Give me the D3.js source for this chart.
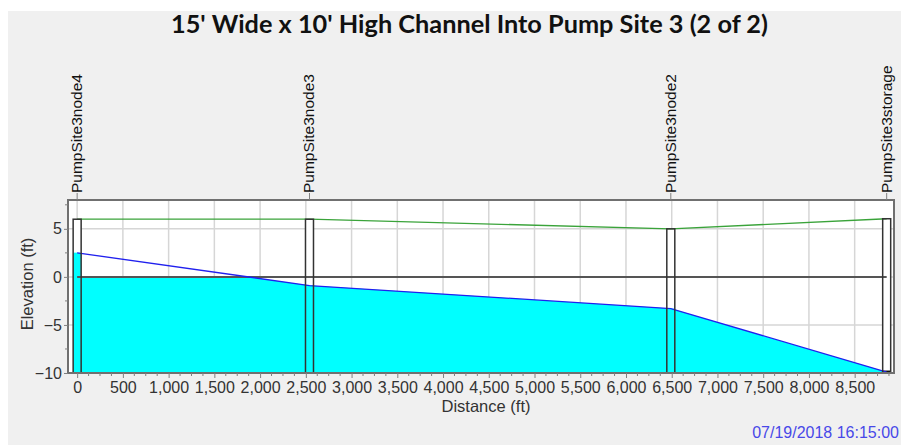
<!DOCTYPE html>
<html><head><meta charset="utf-8">
<script src="https://cdn.jsdelivr.net/npm/d3@7"></script>
<style>
html,body{margin:0;padding:0;background:#fff;}
svg{display:block;}
text{font-family:"Liberation Sans",Arial,sans-serif;}
</style></head>
<body>
<svg id="c" width="901" height="445"></svg>
<script>
// ---- data ----
const title = "15' Wide x 10' High Channel Into Pump Site 3 (2 of 2)";
const nodeNames = ["PumpSite3node4", "PumpSite3node3", "PumpSite3node2", "PumpSite3storage"];
const nodeDistance = [0, 2540, 6490, 8850];
const groundElevation = [6.0, 6.0, 5.0, 6.05];
const hglElevation = [2.5, -0.9, -3.3, -9.9];
const invertElevation = [-10, -10, -10, -10];
const crownElevation = [0, 0, 0, 0];
const xTickValues = [0,500,1000,1500,2000,2500,3000,3500,4000,4500,5000,5500,6000,6500,7000,7500,8000,8500];
const yTickValues = [-10, -5, 0, 5];
const xLabel = "Distance (ft)";
const yLabel = "Elevation (ft)";
const timeStamp = "07/19/2018 16:15:00";

// ---- layout ----
const L = 68, R = 894, T = 200, B = 373;
const svg = d3.select("#c");
svg.append("rect").attr("x",8).attr("y",11).attr("width",893).attr("height",434).attr("fill","#f0f0f0");

const x = d3.scaleLinear().domain([-100, 8930]).range([L, R]);
const y = d3.scaleLinear().domain([-10, 8]).range([B, T]);
const nodes = nodeNames.map((n,i)=>({name:n, d:nodeDistance[i], g:groundElevation[i], h:hglElevation[i], inv:invertElevation[i], cr:crownElevation[i]}));
const MH = 4; // half width of manhole rect in px

svg.append("text").attr("x",171).attr("y",33).attr("textLength",597).attr("lengthAdjust","spacingAndGlyphs")
  .style("font-family","Lato,sans-serif").style("font-weight","bold").style("font-size","25px").attr("fill","#111").text(title);

// plot bg
svg.append("rect").attr("x",L).attr("y",T).attr("width",R-L).attr("height",B-T).attr("fill","#fff");

// gridlines
const grid = svg.append("g");
grid.selectAll("line.v").data(xTickValues).join("line").attr("class","v")
  .attr("x1",d=>x(d)).attr("x2",d=>x(d)).attr("y1",T).attr("y2",B).attr("stroke","#d6d6d6").attr("stroke-width",1.5);
grid.selectAll("line.h").data(yTickValues.filter(v=>v>-10)).join("line").attr("class","h")
  .attr("x1",L).attr("x2",R).attr("y1",d=>y(d)).attr("y2",d=>y(d)).attr("stroke","#d6d6d6").attr("stroke-width",1.5);

// manhole white interiors
svg.selectAll("rect.mhbg").data(nodes).join("rect").attr("class","mhbg")
  .attr("x",d=>x(d.d)-MH).attr("width",2*MH).attr("y",d=>y(d.g)).attr("height",d=>y(d.inv)-y(d.g)).attr("fill","#fff");

// clip: conduit + manholes
const defs = svg.append("defs");
const cp = defs.append("clipPath").attr("id","water");
cp.append("rect").attr("x",x(nodeDistance[0])).attr("width",x(nodeDistance[nodeDistance.length-1])-x(nodeDistance[0]))
  .attr("y",y(d3.max(crownElevation))).attr("height",y(d3.min(invertElevation))-y(d3.max(crownElevation)));
nodes.forEach(n=>cp.append("rect").attr("x",x(n.d)-MH).attr("width",2*MH).attr("y",y(n.g)).attr("height",y(n.inv)-y(n.g)));

// water area
const ext = [{d:nodes[0].d, h:nodes[0].h, inv:nodes[0].inv}, ...nodes, {d:nodes[nodes.length-1].d, h:nodes[nodes.length-1].h, inv:nodes[nodes.length-1].inv}];
svg.append("path").attr("clip-path","url(#water)")
  .attr("d", d3.area().x((d,i)=> i===0 ? x(d.d)-MH : (i===ext.length-1 ? x(d.d)+MH : x(d.d))).y0(d=>y(d.inv)).y1(d=>y(d.h))(ext))
  .attr("fill","#00ffff");
// manhole water columns
svg.selectAll("rect.mhw").data(nodes.slice(0,-1)).join("rect").attr("class","mhw")
  .attr("x",d=>x(d.d)-MH).attr("width",2*MH).attr("y",d=>y(Math.min(d.h,d.g))).attr("height",d=>y(d.inv)-y(Math.min(d.h,d.g))).attr("fill","#00ffff");
// storage water (dark)
const st = nodes[nodes.length-1];
svg.append("rect").attr("x",x(st.d)-MH).attr("width",2*MH).attr("y",y(st.h)-1.5).attr("height",y(st.inv)-y(st.h)+1.5).attr("fill","#111");

// crown line
svg.append("line").attr("x1",x(nodeDistance[0])).attr("x2",x(nodeDistance[nodeDistance.length-1])).attr("y1",y(0)).attr("y2",y(0))
  .attr("stroke","#555").attr("stroke-width",2);
// ground line
svg.append("path").attr("d",d3.line().x(d=>x(d.d)).y(d=>y(d.g))(nodes)).attr("fill","none").attr("stroke","#3aa33a").attr("stroke-width",1.3);
// HGL
svg.append("path").attr("d",d3.line().x(d=>x(d.d)).y(d=>y(d.h))(nodes)).attr("fill","none").attr("stroke","#2020ee").attr("stroke-width",1.3);
// invert line
svg.append("path").attr("d",d3.line().x(d=>x(d.d)).y(d=>y(d.inv))(nodes)).attr("fill","none").attr("stroke","#3050d0").attr("stroke-width",1);

// manhole outlines
svg.selectAll("rect.mh").data(nodes).join("rect").attr("class","mh")
  .attr("x",d=>x(d.d)-MH).attr("width",2*MH).attr("y",d=>y(d.g)).attr("height",d=>y(d.inv)-y(d.g))
  .attr("fill","none").attr("stroke","#333").attr("stroke-width",1.5);

// border
svg.append("rect").attr("x",L).attr("y",T).attr("width",R-L).attr("height",B-T).attr("fill","none").attr("stroke","#707070").attr("stroke-width",2);

// axes
const ax = svg.append("g").attr("transform",`translate(0,${B})`)
  .call(d3.axisBottom(x).tickValues(xTickValues).tickSize(5).tickPadding(4).tickFormat(d3.format(",")));
ax.select(".domain").remove();
ax.selectAll("line").attr("stroke","#808080");
ax.selectAll("text").style("font-size","16px").attr("fill","#333");
const minorX = d3.range(0, 8930, 125).filter(v=>v%500!==0);
svg.append("g").selectAll("line").data(minorX).join("line")
  .attr("x1",d=>x(d)).attr("x2",d=>x(d)).attr("y1",B).attr("y2",B+3).attr("stroke","#808080");

const ay = svg.append("g").attr("transform",`translate(${L},0)`)
  .call(d3.axisLeft(y).tickValues(yTickValues).tickSize(4).tickPadding(2));
ay.select(".domain").remove();
ay.selectAll("line").attr("stroke","#808080");
ay.selectAll("text").style("font-size","16px").attr("fill","#333");
const minorY = [-7.5,-2.5,2.5,7.5];
svg.append("g").selectAll("line").data(minorY).join("line")
  .attr("x1",L-3).attr("x2",L).attr("y1",d=>y(d)).attr("y2",d=>y(d)).attr("stroke","#808080");

// axis titles
svg.append("text").attr("x",486).attr("y",412).attr("text-anchor","middle").style("font-size","16.5px").attr("fill","#333").text(xLabel);
svg.append("text").attr("transform","translate(33,284) rotate(-90)").attr("text-anchor","middle").style("font-size","16.5px").attr("fill","#333").text(yLabel);

// node labels
const nl = svg.append("g");
nl.selectAll("line").data(nodes).join("line").attr("x1",d=>x(d.d)).attr("x2",d=>x(d.d)).attr("y1",T-7).attr("y2",T).attr("stroke","#808080");
nl.selectAll("text").data(nodes).join("text")
  .attr("transform",d=>`translate(${x(d.d)+5},193) rotate(-90)`).style("font-size","15.5px").attr("fill","#111").text(d=>d.name);

// time stamp
svg.append("text").attr("x",899).attr("y",438).attr("text-anchor","end").style("font-size","16px").attr("fill","#4848e8").text(timeStamp);
</script>
</body></html>
